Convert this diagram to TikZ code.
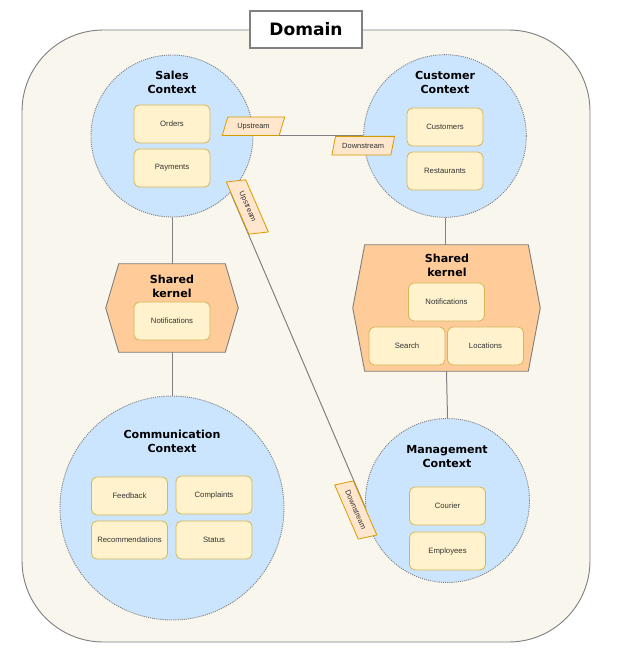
\documentclass[tikz,border=0pt]{standalone}
\usepackage{fontspec}
\setmainfont{Liberation Sans}
\newfontfamily\titlefont{DejaVu Sans}
\usepackage{tikz}
\usetikzlibrary{shapes.geometric}

\definecolor{domainfill}{HTML}{F9F7ED}
\definecolor{ctxfill}{HTML}{CCE5FF}
\definecolor{boxfill}{HTML}{FFF2CC}
\definecolor{boxline}{HTML}{D6B656}
\definecolor{kernelfill}{HTML}{FFCC99}
\definecolor{tagfill}{HTML}{FFE6CC}
\definecolor{tagline}{HTML}{D79B00}
\definecolor{edgegray}{HTML}{808080}
\definecolor{txtgray}{HTML}{333333}

\begin{document}
\begin{tikzpicture}[x=0.75pt,y=0.75pt,yscale=-1,xscale=1,
  context/.style={circle, draw=edgegray, fill=ctxfill, dash pattern=on 0.8pt off 0.8pt, line width=0.7pt, inner sep=0pt},
  part/.style={rectangle, rounded corners=4pt, draw=boxline, fill=boxfill, line width=0.6pt, minimum width=57pt, minimum height=28.5pt, inner sep=0pt, font=\fontsize{5.8}{7}\selectfont, text=txtgray},
  ctxtitle/.style={align=center, inner sep=0pt, font=\titlefont\bfseries\fontsize{8.3}{10.5}\selectfont},
  kernel/.style={rectangle, inner sep=0pt},
  hexagon/.style={draw=edgegray, fill=kernelfill, line width=0.7pt},
  link/.style={draw=edgegray, line width=0.75pt},
  tag/.style={trapezium, trapezium left angle=62, trapezium right angle=118, trapezium stretches=true, draw=tagline, fill=tagfill, line width=0.6pt, minimum width=47pt, minimum height=14pt, inner sep=0pt, font=\fontsize{5.6}{7}\selectfont, text=txtgray}]

\useasboundingbox (0,0) rectangle (619,666);

% domain frame
\node[draw=edgegray, fill=domainfill, rounded corners=61pt, minimum width=426pt, minimum height=459pt, line width=0.7pt] (domain) at (306,336) {};
\node[draw=edgegray, fill=white, line width=0.9pt, minimum width=84pt, minimum height=27.75pt, font=\titlefont\bfseries\fontsize{12.8}{15}\selectfont] (domaintitle) at (306,29.5) {Domain};

% contexts
\node[context, minimum size=121.5pt] (sales) at (172,136) {};
\node[context, minimum size=122pt] (customer) at (445,136) {};
\node[context, minimum size=168pt] (communication) at (172,508) {};
\node[context, minimum size=123pt] (management) at (447.5,500.5) {};

\node[ctxtitle] (salesT) at (172,82) {Sales\\Context};
\node[part] (orders) at (172,124) {Orders};
\node[part] (payments) at (172,168) {Payments};

\node[ctxtitle] (customerT) at (445,82) {Customer\\Context};
\node[part] (customers) at (445,127) {Customers};
\node[part] (restaurants) at (445,171) {Restaurants};

\node[ctxtitle] (communicationT) at (172,441.5) {Communication\\Context};
\node[part] (feedback) at (129.5,496) {Feedback};
\node[part] (complaints) at (214,495) {Complaints};
\node[part] (recommendations) at (129.5,540) {Recommendations};
\node[part] (status) at (214,540) {Status};

\node[ctxtitle] (managementT) at (447,457) {Management\\Context};
\node[part] (courier) at (447.5,506) {Courier};
\node[part] (employees) at (447.5,551) {Employees};

% shared kernels
\node[kernel, minimum width=79.5pt, minimum height=66pt] (kernelL) at (172,308) {};
\draw[hexagon] (kernelL.north west) -- (kernelL.north east) -- ([shift={(13,0)}]kernelL.east) -- (kernelL.south east) -- (kernelL.south west) -- ([shift={(-13,0)}]kernelL.west) -- cycle;
\node[ctxtitle] (kernelLT) at (172,286.5) {Shared\\kernel};
\node[part] (notifyL) at (172,321) {Notifications};

\node[kernel, minimum width=122.25pt, minimum height=94.5pt] (kernelR) at (446.5,308) {};
\draw[hexagon] (kernelR.north west) -- (kernelR.north east) -- ([shift={(12,0)}]kernelR.east) -- (kernelR.south east) -- (kernelR.south west) -- ([shift={(-12,0)}]kernelR.west) -- cycle;
\node[ctxtitle] (kernelRT) at (447,265.5) {Shared\\kernel};
\node[part] (notifyR) at (446.5,302) {Notifications};
\node[part] (search) at (407,346) {Search};
\node[part] (locations) at (485.5,346) {Locations};

% relations
\draw[link] (sales.south) -- (kernelL.north);
\draw[link] (kernelL.south) -- (communication.north);
\draw[link] (customer.south) -- (customer.south |- kernelR.north);
\draw[link] (kernelR.south) -- (management.north);

\draw[link] (sales.east) -- (customer.west)
  node[tag, pos=0, above] (upC) {Upstream}
  node[tag, pos=1, below] (downC) {Downstream};
\draw[link] (sales.-44) -- (management.185)
  node[tag, rotate=-66.5, pos=0.058, anchor=south] (upM) {Upstream}
  node[tag, rotate=-66.5, pos=0.995, anchor=north] (downM) {Downstream};

\end{tikzpicture}
\end{document}
